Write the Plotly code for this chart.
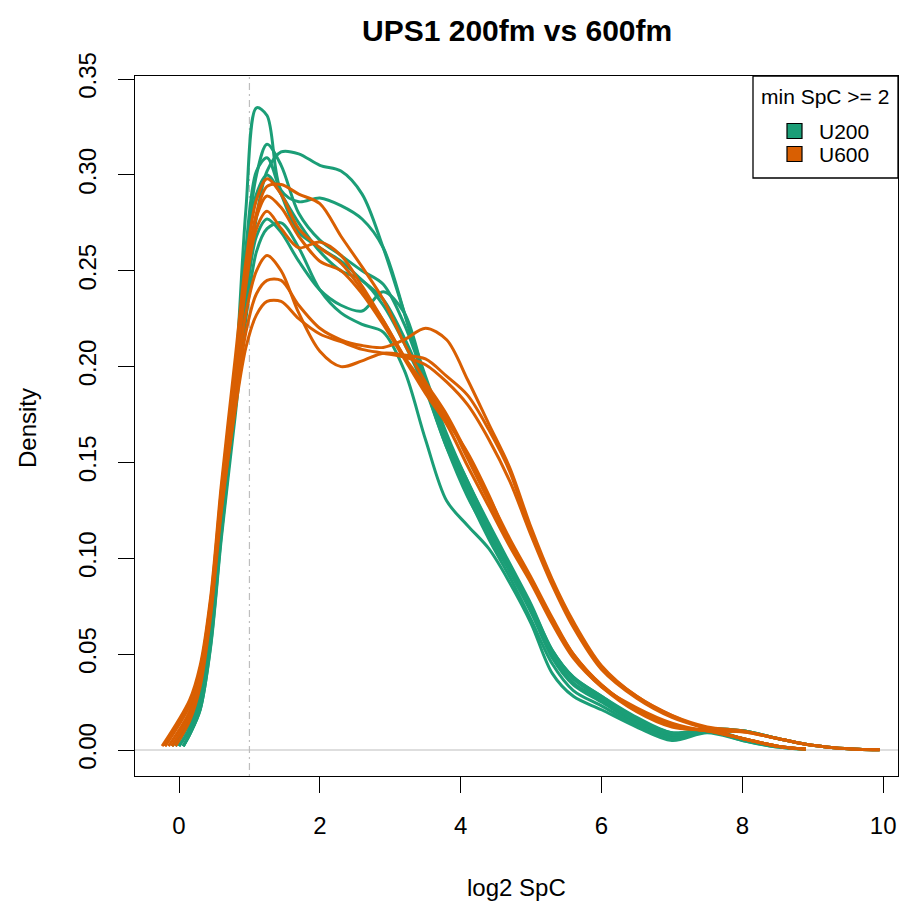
import plotly.graph_objects as go

# ---- data ----
GRID = [0.15, 0.3, 0.45, 0.6, 0.8, 0.95, 1.1, 1.25, 1.45, 1.7, 2.0, 2.3, 2.6, 2.9, 3.2, 3.5,
        3.8, 4.1, 4.4, 4.7, 5.0, 5.3, 5.6, 6.0, 6.5, 7.0, 7.5, 8.0, 8.5, 8.9,
        9.3, 9.65, 9.95]
N = None

U200_START = [0.06, 0.0, 0.06, -0.05, 0.0, 0.06, -0.1]
U200_CURVES = [
    [0.008, 0.022, 0.058, 0.118, 0.195, 0.282, 0.335, 0.331, 0.292, 0.286, 0.288, 0.284, 0.277, 0.262, 0.228, 0.190, 0.158, 0.132, 0.112, 0.093, 0.072, 0.048, 0.034, 0.025, 0.014, 0.007, 0.010, 0.006, 0.002, 0.0005, N, N, N],
    [0.011, 0.026, 0.064, 0.125, 0.195, 0.258, 0.300, 0.316, 0.305, 0.280, 0.266, 0.258, 0.250, 0.243, 0.222, 0.192, 0.162, 0.137, 0.115, 0.095, 0.074, 0.050, 0.035, 0.026, 0.015, 0.008, 0.011, 0.006, 0.002, 0.0005, N, N, N],
    [0.008, 0.021, 0.055, 0.112, 0.180, 0.235, 0.278, 0.302, 0.312, 0.311, 0.305, 0.302, 0.290, 0.262, 0.228, 0.195, 0.165, 0.140, 0.118, 0.097, 0.076, 0.052, 0.038, 0.028, 0.016, 0.008, 0.010, 0.010, 0.006, 0.003, 0.0012, 0.0004, 0.0001],
    [0.014, 0.030, 0.070, 0.130, 0.198, 0.262, 0.302, 0.309, 0.290, 0.270, 0.262, 0.255, 0.245, 0.235, 0.215, 0.190, 0.163, 0.140, 0.117, 0.096, 0.075, 0.052, 0.038, 0.028, 0.017, 0.009, 0.011, 0.010, 0.006, 0.003, 0.0012, 0.0004, 0.0001],
    [0.011, 0.026, 0.062, 0.120, 0.185, 0.235, 0.268, 0.277, 0.270, 0.255, 0.240, 0.232, 0.229, 0.239, 0.228, 0.193, 0.160, 0.133, 0.110, 0.090, 0.068, 0.045, 0.031, 0.023, 0.013, 0.006, 0.010, 0.005, 0.0015, 0.0004, N, N, N],
    [0.008, 0.021, 0.054, 0.110, 0.175, 0.225, 0.260, 0.272, 0.275, 0.262, 0.240, 0.228, 0.222, 0.218, 0.198, 0.162, 0.130, 0.117, 0.105, 0.087, 0.066, 0.040, 0.028, 0.021, 0.012, 0.005, 0.009, 0.005, 0.0015, 0.0004, N, N, N],
    [0.016, 0.032, 0.072, 0.132, 0.200, 0.255, 0.290, 0.300, 0.290, 0.275, 0.260, 0.250, 0.245, 0.232, 0.212, 0.188, 0.158, 0.135, 0.113, 0.093, 0.072, 0.051, 0.037, 0.027, 0.016, 0.009, 0.011, 0.010, 0.006, 0.003, 0.0012, 0.0004, 0.0001],
]

U600_START = [-0.24, -0.2, -0.1, -0.2, -0.05, -0.15, -0.1]
U600_CURVES = [
    [0.026, 0.044, 0.080, 0.138, 0.205, 0.255, 0.287, 0.298, 0.290, 0.272, 0.262, 0.254, 0.240, 0.224, 0.205, 0.188, 0.172, 0.155, 0.133, 0.108, 0.088, 0.067, 0.049, 0.033, 0.022, 0.014, 0.010, 0.0095, 0.006, 0.003, 0.0012, 0.0004, 0.0001],
    [0.024, 0.042, 0.078, 0.135, 0.200, 0.248, 0.280, 0.294, 0.295, 0.290, 0.285, 0.268, 0.252, 0.235, 0.212, 0.192, 0.175, 0.154, 0.132, 0.110, 0.090, 0.069, 0.050, 0.034, 0.021, 0.013, 0.010, 0.006, 0.002, 0.0005, N, N, N],
    [0.018, 0.036, 0.074, 0.130, 0.195, 0.242, 0.272, 0.281, 0.272, 0.262, 0.265, 0.258, 0.242, 0.224, 0.205, 0.190, 0.174, 0.152, 0.130, 0.108, 0.089, 0.068, 0.050, 0.034, 0.021, 0.013, 0.010, 0.0095, 0.006, 0.003, 0.0012, 0.0004, 0.0001],
    [0.023, 0.041, 0.077, 0.130, 0.188, 0.228, 0.250, 0.258, 0.250, 0.228, 0.208, 0.200, 0.203, 0.207, 0.206, 0.204, 0.195, 0.185, 0.167, 0.145, 0.113, 0.088, 0.066, 0.043, 0.028, 0.018, 0.011, 0.006, 0.002, 0.0005, N, N, N],
    [0.015, 0.033, 0.070, 0.124, 0.180, 0.218, 0.238, 0.245, 0.245, 0.232, 0.220, 0.214, 0.211, 0.210, 0.214, 0.220, 0.214, 0.193, 0.170, 0.147, 0.116, 0.089, 0.067, 0.044, 0.028, 0.018, 0.012, 0.010, 0.006, 0.003, 0.0012, 0.0004, 0.0001],
    [0.020, 0.038, 0.074, 0.126, 0.178, 0.210, 0.227, 0.234, 0.234, 0.225, 0.217, 0.213, 0.209, 0.207, 0.205, 0.201, 0.192, 0.180, 0.162, 0.140, 0.112, 0.086, 0.064, 0.042, 0.027, 0.017, 0.011, 0.006, 0.002, 0.0005, N, N, N],
    [0.018, 0.037, 0.075, 0.132, 0.198, 0.245, 0.278, 0.289, 0.283, 0.268, 0.255, 0.250, 0.238, 0.222, 0.204, 0.186, 0.170, 0.148, 0.127, 0.106, 0.087, 0.066, 0.048, 0.033, 0.020, 0.012, 0.010, 0.006, 0.002, 0.0005, N, N, N],
]
START_Y = 0.002

GROUPS = ["U200", "U600"]
COLORS = {"U200": "#1B9E77", "U600": "#D95F02"}
TITLE = "UPS1 200fm vs 600fm"
XLABEL = "log2 SpC"
YLABEL = "Density"
LEGEND_TITLE = "min SpC >= 2"
X_TICKS = [0, 2, 4, 6, 8, 10]
Y_TICKS = [0.00, 0.05, 0.10, 0.15, 0.20, 0.25, 0.30, 0.35]
VLINE_X = 1

FONT = "Liberation Sans, Arial, sans-serif"

fig = go.Figure()

for grp, starts, curves in (("U200", U200_START, U200_CURVES), ("U600", U600_START, U600_CURVES)):
    for s, ys in zip(starts, curves):
        xs = [s] + GRID
        yv = [START_Y] + ys
        fig.add_trace(go.Scatter(
            x=xs, y=yv, mode="lines",
            line=dict(color=COLORS[grp], width=3, shape="spline", smoothing=0.9),
            showlegend=False, hoverinfo="skip", connectgaps=False))

# plot-region geometry (pixels)
L, R, T, B = 135, 898, 76, 776
W, H = R - L, B - T
def px(x): return (x - L) / W
def py(y): return (B - y) / H

shapes = [
    dict(type="line", xref="x", yref="paper", x0=VLINE_X, x1=VLINE_X, y0=0, y1=1,
         line=dict(color="#BEBEBE", width=1.2, dash="2px,4px,7px,4px"), layer="below"),
    dict(type="line", xref="paper", yref="y", x0=0, x1=1, y0=0, y1=0,
         line=dict(color="#BEBEBE", width=1.2), layer="below"),
    # legend box
    dict(type="rect", xref="paper", yref="paper", x0=px(753), x1=1, y0=py(178), y1=1,
         line=dict(color="black", width=1.3), fillcolor="white", layer="above"),
]
annotations = [
    dict(text="<b>%s</b>" % TITLE, xref="paper", yref="paper", x=px(517), y=py(30),
         showarrow=False, font=dict(size=30, family=FONT, color="black"),
         xanchor="center", yanchor="middle"),
    dict(text=XLABEL, xref="paper", yref="paper", x=px(516), y=py(887),
         showarrow=False, font=dict(size=24, family=FONT, color="black"),
         xanchor="center", yanchor="middle"),
    dict(text=YLABEL, xref="paper", yref="paper", x=px(27), y=py(428),
         showarrow=False, font=dict(size=24, family=FONT, color="black"),
         textangle=-90, xanchor="center", yanchor="middle"),
    dict(text=LEGEND_TITLE, xref="paper", yref="paper", x=px(825), y=py(96),
         showarrow=False, font=dict(size=21, family=FONT, color="black"),
         xanchor="center", yanchor="middle"),
]
LEG_ROWS = [131, 154]
for grp, row in zip(GROUPS, LEG_ROWS):
    shapes.append(dict(type="rect", xref="paper", yref="paper",
                       x0=px(787), x1=px(802), y0=py(row + 7.5), y1=py(row - 7.5),
                       fillcolor=COLORS[grp], line=dict(color="black", width=1.2),
                       layer="above"))
    annotations.append(dict(text=grp, xref="paper", yref="paper", x=px(817), y=py(row),
                            showarrow=False, font=dict(size=21, family=FONT, color="black"),
                            xanchor="left", yanchor="middle"))

fig.update_layout(
    width=907, height=909, autosize=False,
    margin=dict(l=L, r=907 - R, t=T, b=909 - B),
    paper_bgcolor="white", plot_bgcolor="white",
    font=dict(family=FONT, color="black"),
    shapes=shapes, annotations=annotations,
    showlegend=False,
)
fig.update_xaxes(range=[-0.625, 10.21], tickvals=X_TICKS, ticktext=[str(v) for v in X_TICKS],
                 showgrid=False, zeroline=False, showline=True, mirror=True,
                 linecolor="black", linewidth=1.3, ticks="outside", ticklen=16,
                 tickwidth=1.3, tickcolor="black", tickfont=dict(size=24, family=FONT),
                 ticklabelstandoff=12)
fig.update_yaxes(range=[-0.01356, 0.3516], tickvals=Y_TICKS,
                 ticktext=["%.2f" % v for v in Y_TICKS],
                 showgrid=False, zeroline=False, showline=True, mirror=True,
                 linecolor="black", linewidth=1.3, ticks="outside", ticklen=16,
                 tickwidth=1.3, tickcolor="black", tickfont=dict(size=24, family=FONT),
                 tickangle=-90, ticklabelstandoff=12)

fig.write_html("out.html", config={"displayModeBar": False},
               post_script="document.body.style.margin='0px';document.body.style.overflow='hidden';")
